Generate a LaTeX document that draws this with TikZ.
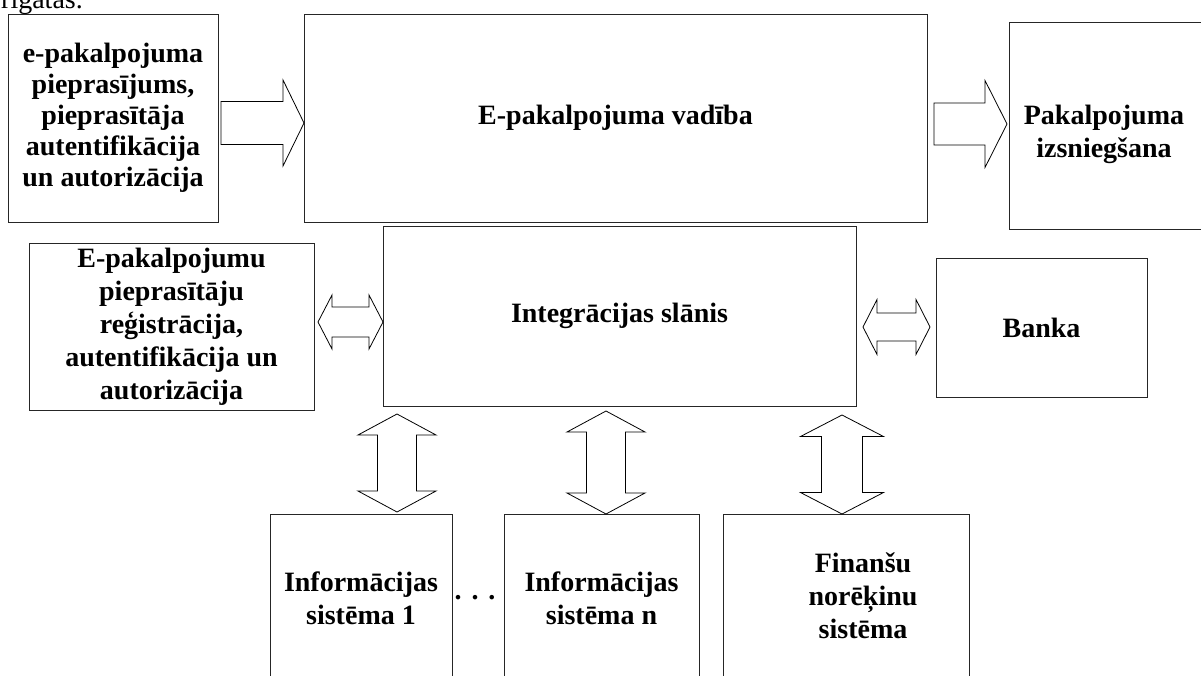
\documentclass[tikz,border=0pt]{standalone}
\usepackage{fontspec}
\setmainfont{Liberation Serif}
\usetikzlibrary{calc}
% right block arrow: tail, tip, shaft half-height, head half-height, head length
\newcommand\rblk[5]{%
 \draw[blk] ($(#1)+(0,-#3)$) -- ($(#2)+(-#5,-#3)$) -- ($(#2)+(-#5,-#4)$) -- (#2)
   -- ($(#2)+(-#5,#4)$) -- ($(#2)+(-#5,#3)$) -- ($(#1)+(0,#3)$) -- cycle;}
% horizontal double block arrow: left tip, right tip, shaft half, head half, head length
\newcommand\hdbl[5]{%
 \draw[blk] (#1) -- ($(#1)+(#5,-#4)$) -- ($(#1)+(#5,-#3)$) -- ($(#2)+(-#5,-#3)$)
   -- ($(#2)+(-#5,-#4)$) -- (#2) -- ($(#2)+(-#5,#4)$) -- ($(#2)+(-#5,#3)$)
   -- ($(#1)+(#5,#3)$) -- ($(#1)+(#5,#4)$) -- cycle;}
% vertical double block arrow: top tip, bottom tip, shaft half, head half, head length
\newcommand\vdbl[5]{%
 \draw[blk] (#1) -- ($(#1)+(#4,#5)$) -- ($(#1)+(#3,#5)$) -- ($(#2)+(#3,-#5)$)
   -- ($(#2)+(#4,-#5)$) -- (#2) -- ($(#2)+(-#4,-#5)$) -- ($(#2)+(-#3,-#5)$)
   -- ($(#1)+(-#3,#5)$) -- ($(#1)+(-#4,#5)$) -- cycle;}
\begin{document}
\begin{tikzpicture}[x=1pt,y=-1pt,
  box/.style={draw=black!85, line width=0.9pt, inner sep=0pt, outer sep=0pt,
    anchor=north west, align=center, font=\bfseries\fontsize{28}{32}\selectfont},
  lbl/.style={align=center, inner sep=0pt, font=\bfseries\fontsize{28}{33}\selectfont},
  blk/.style={draw=black, line width=0.8pt, fill=white, line join=miter}]
\useasboundingbox (0,0) rectangle (1201,675);
\clip (0,0) rectangle (1201,675);
\fill[white] (0,0) rectangle (1201,675);

\node[anchor=base west, inner sep=0pt, font=\fontsize{28}{32}\selectfont] (top) at (1,8) {rigatas.};

\node[box, minimum width=210pt, minimum height=208pt,
  font=\bfseries\fontsize{28}{31}\selectfont] (A) at (8,14)
  {e-pakalpojuma\\pieprasījums,\\pieprasītāja\\autentifikācija\\un autorizācija};
\node[box, minimum width=623pt, minimum height=208pt] (B) at (304,14) {E-pakalpojuma vadība};
\node[box, minimum width=193pt, minimum height=207pt] (C) at (1009,22) {};
\node[lbl] (Ct) at (1104,134) {Pakalpojuma\\izsniegšana};

\node[box, minimum width=285pt, minimum height=167pt,
  font=\bfseries\fontsize{28}{33}\selectfont] (D) at (29,243)
  {E-pakalpojumu\\pieprasītāju\\reģistrācija,\\autentifikācija un\\autorizācija};
\node[box, minimum width=473pt, minimum height=180pt] (E) at (383,226) {Integrācijas slānis};
\node[box, minimum width=211pt, minimum height=139pt] (K) at (936,258) {Banka};

\node[box, minimum width=182pt, minimum height=200pt] (IS1) at (270,514) {};
\node[box, minimum width=195pt, minimum height=200pt] (ISn) at (504,514) {};
\node[box, minimum width=246pt, minimum height=200pt] (Fin) at (723,514) {};
\node[lbl] (IS1t) at (361,598) {Informācijas\\sistēma 1};
\node[lbl] (ISnt) at (601.5,598) {Informācijas\\sistēma n};
\node[lbl] (Fint) at (863,596) {Finanšu\\norēķinu\\sistēma};
\node[lbl, font=\bfseries\fontsize{28}{32}\selectfont] (dots) at (475,598) {.\hspace{10pt}.\hspace{10pt}.};

% arrows
\coordinate (a1s) at ($(A.east)+(3,5)$);
\coordinate (a1e) at (a1s -| B.west);
\rblk{a1s}{a1e}{21.5}{43}{21}
\coordinate (a2s) at ($(B.east)+(7,6)$);
\coordinate (a2e) at ($(a2s -| C.west)+(-2,0)$);
\rblk{a2s}{a2e}{21}{43.5}{22}

\coordinate (h1l) at ($(D.east)+(4,-4.5)$);
\coordinate (h1r) at (h1l -| E.west);
\hdbl{h1l}{h1r}{15}{27}{14}
\coordinate (h2l) at ($(E.east)+(7,11)$);
\coordinate (h2r) at ($(h2l -| K.west)+(-6,0)$);
\hdbl{h2l}{h2r}{14}{27.5}{14}

\coordinate (v1t) at ($(E.south west)+(14,8)$);
\coordinate (v1b) at ($(v1t |- IS1.north)+(0,-2)$);
\vdbl{v1t}{v1b}{19.5}{39}{21}
\coordinate (v2t) at ($(E.south west)+(223,5)$);
\coordinate (v2b) at (v2t |- ISn.north);
\vdbl{v2t}{v2b}{19.5}{39}{21}
\coordinate (v3t) at ($(E.south west)+(459,9)$);
\coordinate (v3b) at (v3t |- Fin.north);
\vdbl{v3t}{v3b}{20.5}{41.5}{21.5}
\end{tikzpicture}
\end{document}
